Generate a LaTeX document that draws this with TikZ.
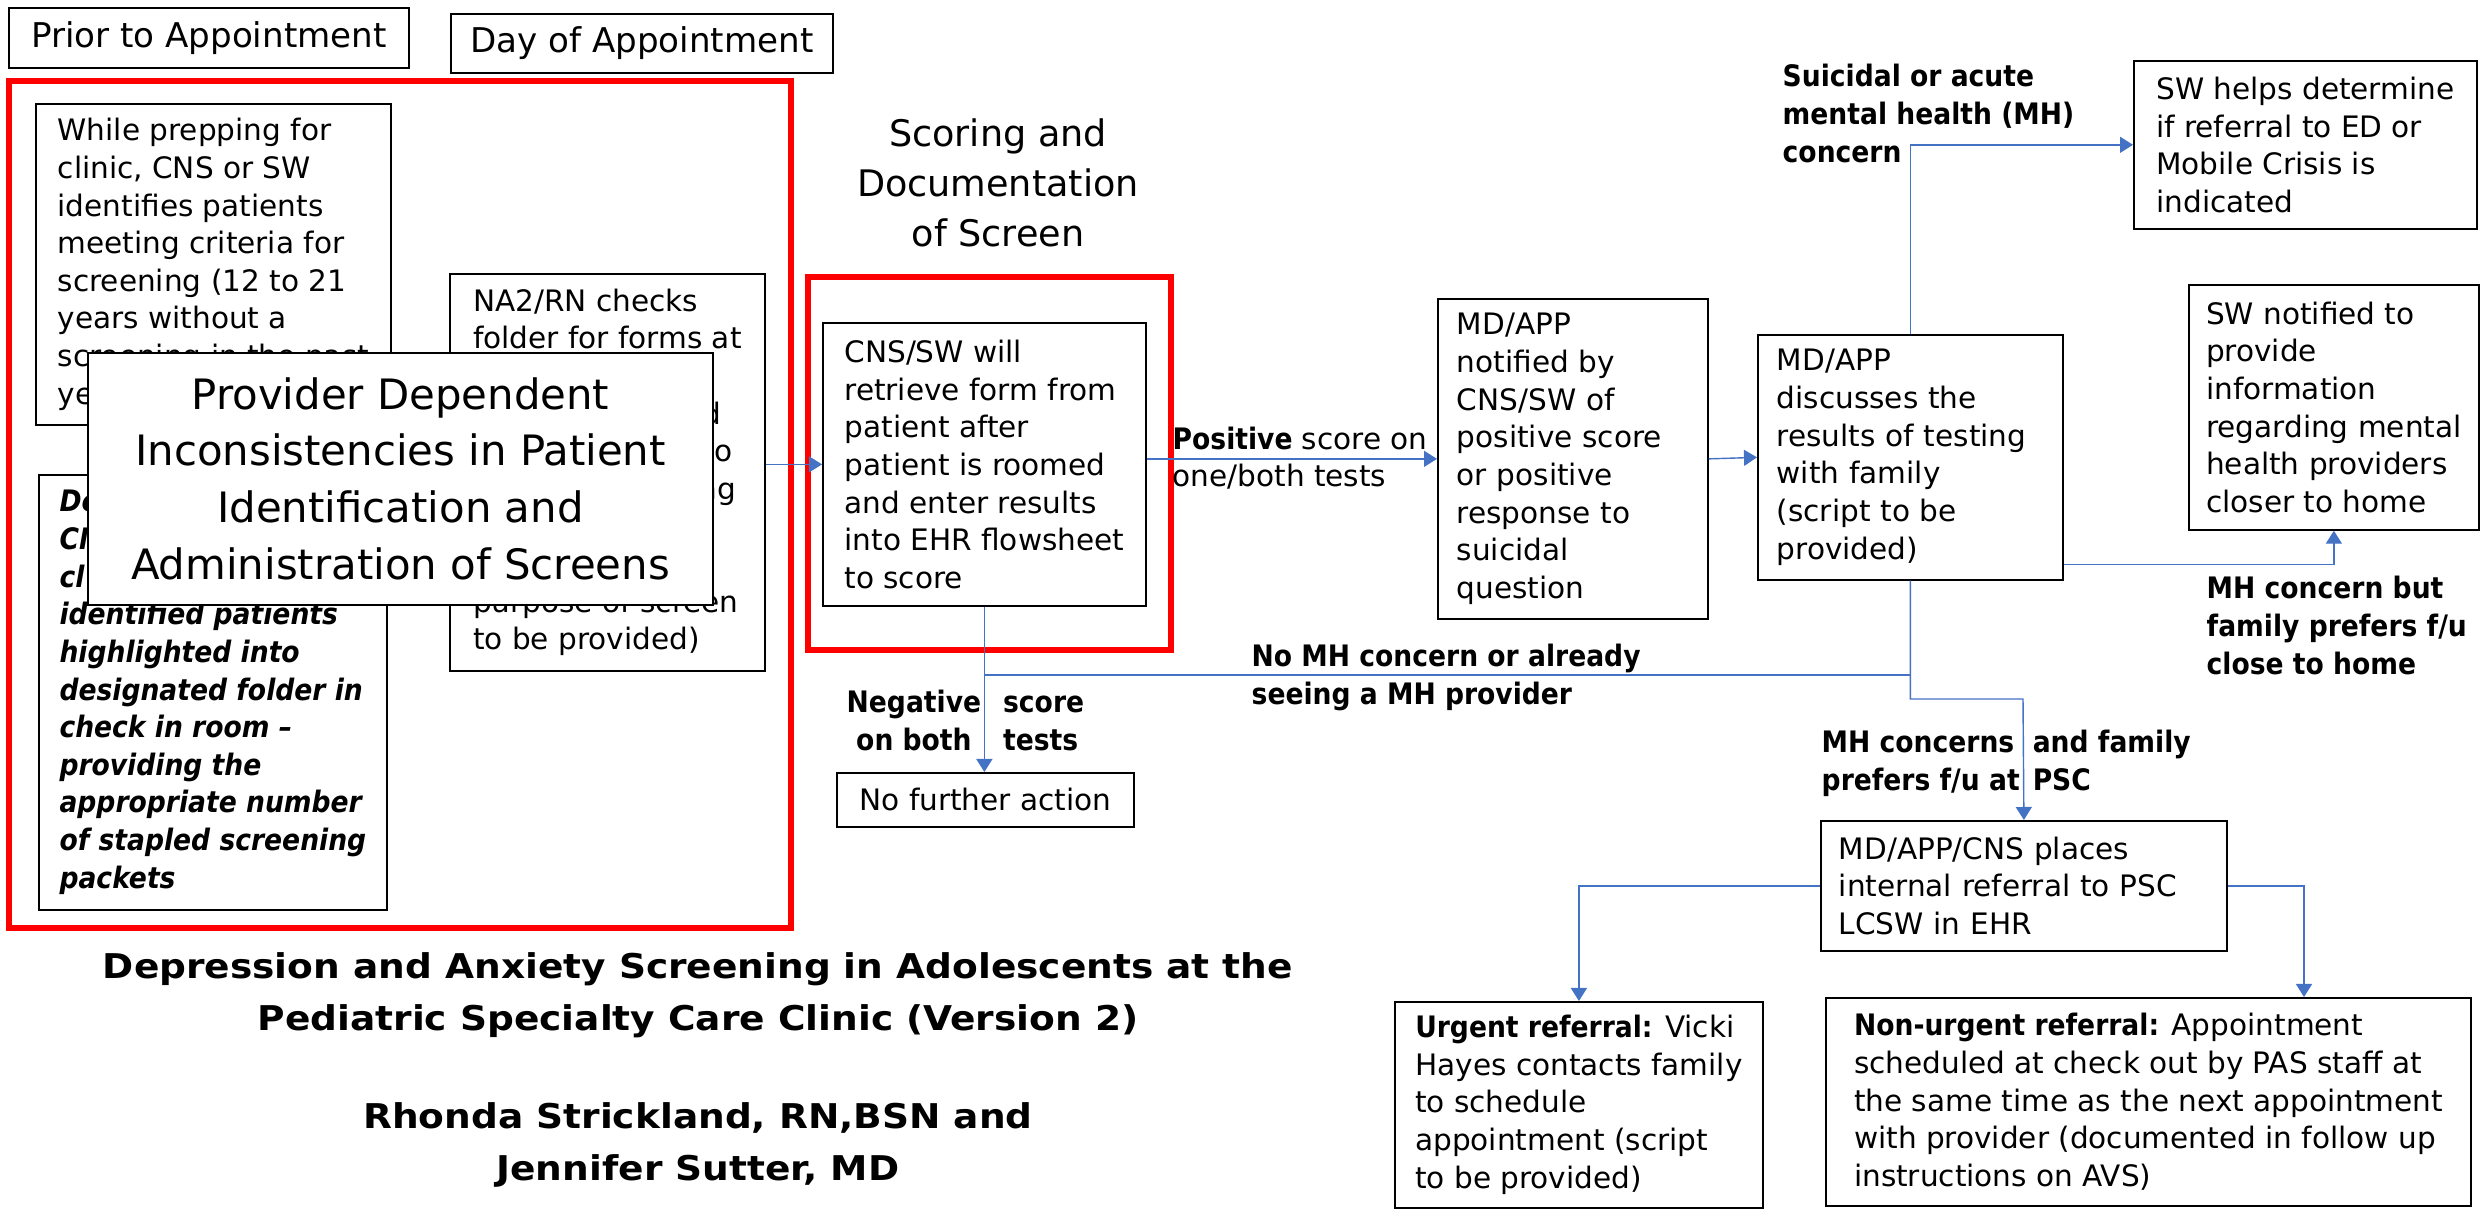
\documentclass[tikz,border=0pt]{standalone}
\usepackage{fontspec}
\setmainfont{DejaVu Sans}[
  BoldFont={DejaVu Sans Bold},
  ItalicFont={DejaVu Sans Oblique},
  BoldItalicFont={DejaVu Sans Bold Oblique},
  BoldFeatures={FakeStretch=0.9},
  BoldItalicFeatures={FakeStretch=0.9}]
\newfontfamily\creditfont{DejaVu Sans Bold}[FakeStretch=1.1]
\usetikzlibrary{arrows.meta}
\definecolor{flowblue}{HTML}{4472C4}
\newcommand{\boxsize}{\fontsize{8.4pt}{10.7pt}\selectfont}
\newcommand{\phasesize}{\fontsize{9.7pt}{12pt}\selectfont}
\newcommand{\headsize}{\fontsize{10.4pt}{14.2pt}\selectfont}
\newcommand{\bannersize}{\fontsize{11.9pt}{16.2pt}\selectfont}
\newcommand{\creditsize}{\fontsize{9.7pt}{14.9pt}\selectfont}

\begin{document}
\begin{tikzpicture}[
    x=0.01cm, y=-0.01cm,
    >={Triangle[width=0.16cm,length=0.13cm]},
    every node/.style = {font=\boxsize},
    box/.style    = {draw, line width=0.45pt, anchor=north west, align=left, inner sep=0pt},
    phase/.style  = {draw, line width=0.45pt, anchor=north west, inner sep=0pt, font=\phasesize},
    cue/.style    = {anchor=west, align=left, inner sep=0pt, font=\boxsize\bfseries},
    flow/.style   = {->, draw=flowblue, line width=0.4pt},
    redbox/.style = {draw=red, line width=1.7pt}
    ]
    \useasboundingbox (0,0) rectangle (2484,1210);

    %--- phases ---
    \node[phase, minimum width=4cm, minimum height=0.6cm] (prior) at (8,7) {Prior to Appointment};
    \node[phase, minimum width=3.82cm, minimum height=0.59cm] (day) at (450,13) {Day of Appointment};

    %--- set-up before the visit ---
    \draw[redbox] (9,81) rectangle (791,928);
    \node[box, minimum width=3.55cm, minimum height=3.21cm] (prep) at (35,103)
        {While prepping for\\clinic, CNS or SW\\identifies patients\\meeting criteria for\\screening (12 to 21\\years without a\\screening in the past\\ye};
    \node[box, minimum width=3.48cm, minimum height=4.35cm, font=\boxsize\bfseries\itshape] (folder) at (38,474)
        {De\\CN\\cl\\identified patients\\highlighted into\\designated folder in\\check in room –\\providing the\\appropriate number\\of stapled screening\\packets};
    \node[box, minimum width=3.15cm, minimum height=3.97cm] (check) at (449,273)
        {NA2/RN checks\\folder for forms at\\\mbox{}\\\hspace*{2.29cm}d\\\hspace*{2.30cm}to\\\hspace*{2.25cm}ng\\\mbox{}\\\mbox{}\\purpose of screen\\to be provided)};
    \node[box, minimum width=6.25cm, minimum height=2.52cm, fill=white, align=center, font=\bannersize] (issue) at (87,352)
        {Provider Dependent\\Inconsistencies in Patient\\Identification and\\Administration of Screens};

    %--- scoring ---
    \node[align=center, inner sep=0pt, font=\headsize] (scoring) at (998,183) {Scoring and\\Documentation\\of Screen};
    \draw[redbox] (808,277) rectangle (1171,650);
    \node[box, minimum width=3.23cm, minimum height=2.83cm] (retrieve) at (822,322)
        {CNS/SW will\\retrieve form from\\patient after\\patient is roomed\\and enter results\\into EHR flowsheet\\to score};
    \node[box, minimum width=2.97cm, minimum height=0.54cm] (none) at (836,772) {No further action};

    %--- follow up ---
    \node[box, minimum width=2.70cm, minimum height=3.20cm, text width=2.32cm] (notify) at (1437,298)
        {MD/APP\\notified by\\CNS/SW of\\positive score\\or positive\\response to\\suicidal\\question};
    \node[box, minimum width=3.05cm, minimum height=2.45cm, text width=2.67cm] (discuss) at (1757,334)
        {MD/APP\\discusses the\\results of testing\\with family\\(script to be\\provided)};
    \node[box, minimum width=3.43cm, minimum height=1.68cm] (crisis) at (2133,60)
        {SW helps determine\\if referral to ED or\\Mobile Crisis is\\indicated};
    \node[box, minimum width=2.90cm, minimum height=2.45cm] (local) at (2188,284)
        {SW notified to\\provide\\information\\regarding mental\\health providers\\closer to home};
    \node[box, minimum width=4.06cm, minimum height=1.30cm, text width=3.70cm] (refer) at (1820,820)
        {MD/APP/CNS places\\internal referral to PSC\\LCSW in EHR};
    \node[box, minimum width=3.68cm, minimum height=2.06cm] (urgent) at (1394,1001)
        {\textbf{Urgent referral:} Vicki\\Hayes contacts family\\to schedule\\appointment (script\\to be provided)};
    \node[box, minimum width=6.45cm, minimum height=2.08cm] (routine) at (1825,997)
        {\textbf{Non-urgent referral:} Appointment\\scheduled at check out by PAS staff at\\the same time as the next appointment\\with provider (documented in follow up\\instructions on AVS)};

    %--- title and authors ---
    \node[align=center, inner sep=0pt, font=\creditsize\creditfont] (title) at (698,995)
        {Depression and Anxiety Screening in Adolescents at the\\Pediatric Specialty Care Clinic (Version 2)};
    \node[align=center, inner sep=0pt, font=\creditsize\creditfont] (authors) at (698,1145)
        {Rhonda Strickland, RN,BSN and\\Jennifer Sutter, MD};

    %--- connectors ---
    \coordinate (merge) at (983.5,675);
    \coordinate (split) at (2023,699);
    \coordinate (nu) at (2304,997);
    \draw[flow] (retrieve.west -| check.east) -- (retrieve.west);
    \draw[flow] (notify.west -| retrieve.east) -- (notify.west);
    \draw[flow] (retrieve.south) -- (retrieve.south |- none.north);
    \draw[flow, -] (discuss.south) |- (merge);
    \draw[flow] (discuss.south) |- (split) -- (refer.north);
    \draw[flow] (discuss.north) |- (crisis.west);
    \draw[flow] ([yshift=0.16cm]discuss.south east) -| (local.south);
    \draw[flow] (notify.east) -- (discuss.west);
    \draw[flow] (refer.west) -| (urgent.north);
    \draw[flow] (refer.east) -| (nu);

    %--- connector labels ---
    \node[cue, font=\boxsize] (pos) at (1172,458) {\textbf{Positive} score on\\one/both tests};
    \node[cue] (neg) at (846,724)
        {\begin{tabular}{@{}c@{\hspace{0.22cm}}l@{}}Negative & score\\on both & tests\end{tabular}};
    \node[cue] (nomh) at (1251,677.5) {No MH concern or already\\seeing a MH provider};
    \node[cue] (acute) at (1782,113.5) {Suicidal or acute\\mental health (MH)\\concern};
    \node[cue] (near) at (2206,625.5) {MH concern but\\family prefers f/u\\close to home};
    \node[cue] (psc) at (1821,764)
        {\begin{tabular}{@{}l@{\hspace{0.13cm}}l@{}}MH concerns & and family\\prefers f/u at & PSC\end{tabular}};
\end{tikzpicture}
\end{document}
